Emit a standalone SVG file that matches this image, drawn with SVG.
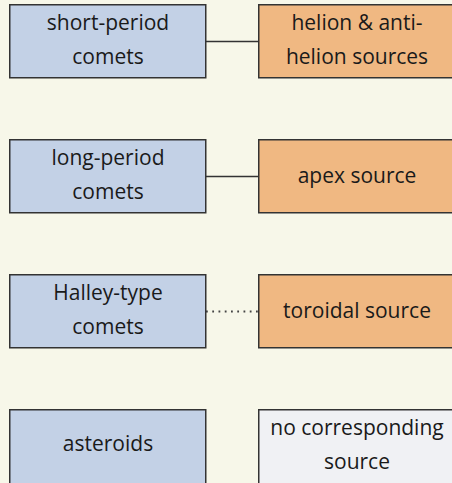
<svg xmlns="http://www.w3.org/2000/svg" width="452" height="483" viewBox="0 0 452 483">
<style>
.bg{fill:#f7f7e9}
.l{fill:#c3d1e6;stroke:#333;stroke-width:1.5}
.r{fill:#f0b882;stroke:#333;stroke-width:1.5}
.g{fill:#f0f1f4;stroke:#333;stroke-width:1.5}
text{font-family:"Open Sans","DejaVu Sans",sans-serif;font-size:21px;fill:#1a1a1a;text-anchor:middle}
.c{stroke:#333;stroke-width:1.5;fill:none}
.d{stroke:#444;stroke-width:1.8;stroke-dasharray:1.8 4.45;fill:none}
</style>
<rect class="bg" x="0" y="0" width="452" height="483"/>
<g id="connectors">
<line class="c" x1="206" y1="41.5" x2="259" y2="41.5"/>
<line class="c" x1="206" y1="176.5" x2="259" y2="176.5"/>
<line class="d" x1="206" y1="311.5" x2="259" y2="311.5"/>
</g>
<g id="short-period">
<rect class="l" x="9.75" y="4.75" width="196" height="73"/>
<text x="108" y="30">short-period</text>
<text x="108" y="64">comets</text>
</g>
<g id="helion">
<rect class="r" x="258.75" y="4.75" width="196" height="73"/>
<text x="357" y="30">helion &amp; anti-</text>
<text x="357" y="64">helion sources</text>
</g>
<g id="long-period">
<rect class="l" x="9.75" y="139.75" width="196" height="73"/>
<text x="108" y="165">long-period</text>
<text x="108" y="199">comets</text>
</g>
<g id="apex">
<rect class="r" x="258.75" y="139.75" width="196" height="73"/>
<text x="357" y="183">apex source</text>
</g>
<g id="halley">
<rect class="l" x="9.75" y="274.75" width="196" height="73"/>
<text x="108" y="300">Halley-type</text>
<text x="108" y="334">comets</text>
</g>
<g id="toroidal">
<rect class="r" x="258.75" y="274.75" width="196" height="73"/>
<text x="357" y="318">toroidal source</text>
</g>
<g id="asteroids">
<rect class="l" x="9.75" y="409.75" width="196" height="80"/>
<text x="108" y="451">asteroids</text>
</g>
<g id="nocorr">
<rect class="g" x="258.75" y="409.75" width="196" height="80"/>
<text x="357" y="435">no corresponding</text>
<text x="357" y="469">source</text>
</g>
</svg>
